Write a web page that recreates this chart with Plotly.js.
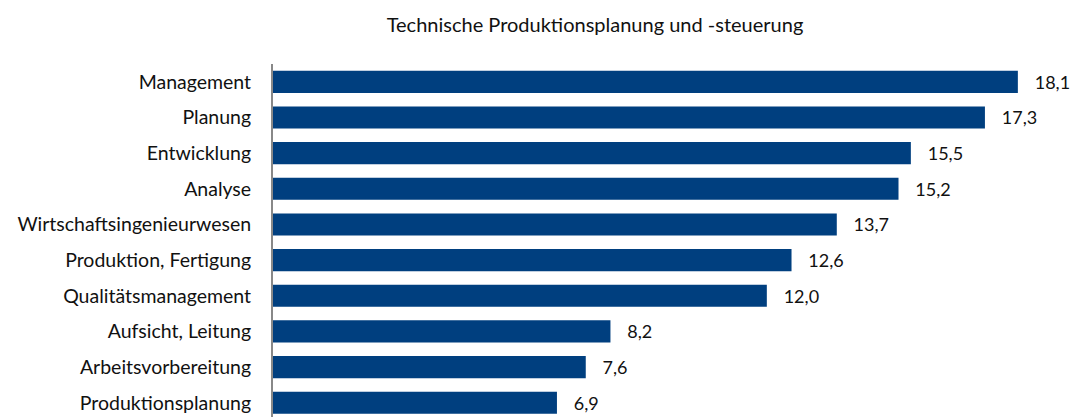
<!DOCTYPE html>
<html><head><meta charset="utf-8">
<script src="https://cdn.plot.ly/plotly-3.0.1.min.js"></script>
<style>html,body{margin:0;padding:0;background:#fff;}#c{width:1073px;height:417px;}</style>
</head><body><div id="c"></div>
<script>
const categories = ["Management","Planung","Entwicklung","Analyse","Wirtschaftsingenieurwesen","Produktion, Fertigung","Qualitätsmanagement","Aufsicht, Leitung","Arbeitsvorbereitung","Produktionsplanung"];
const values = [18.1,17.3,15.5,15.2,13.7,12.6,12.0,8.2,7.6,6.9];
const labels = values.map(v => "\u00a0\u00a0\u00a0" + v.toFixed(1).replace(".", ","));
const chartTitle = "Technische Produktionsplanung und -steuerung";

const trace = {
  type: "bar", orientation: "h",
  x: values, y: categories,
  text: labels, textposition: "outside", cliponaxis: false,
  textfont: {family: "Lato, sans-serif", size: 18, color: "#111"},
  marker: {color: "#003f7f"},
  width: 0.62, hoverinfo: "none"
};
const layout = {
  width: 1073, height: 417,
  margin: {l: 273, r: 0, t: 64, b: 0},
  paper_bgcolor: "#fff", plot_bgcolor: "#fff",
  showlegend: false,
  title: {text: chartTitle, x: 595/1073, xref: "container", xanchor: "center", y: 1 - 25/417, yanchor: "middle",
          font: {family: "Lato, sans-serif", size: 20, color: "#111"}},
  xaxis: {range: [0, 19.44], visible: false, showgrid: false, zeroline: false},
  yaxis: {type: "category", categoryorder: "array", categoryarray: categories, range: [9.4, -0.5],
          showline: true, linecolor: "#888", linewidth: 2, ticks: "", ticklabelstandoff: 16,
          showgrid: false, zeroline: false,
          tickfont: {family: "Lato, sans-serif", size: 19.5, color: "#111"}}
};
Plotly.newPlot("c", [trace], layout, {displayModeBar: false, staticPlot: true});
</script></body></html>
